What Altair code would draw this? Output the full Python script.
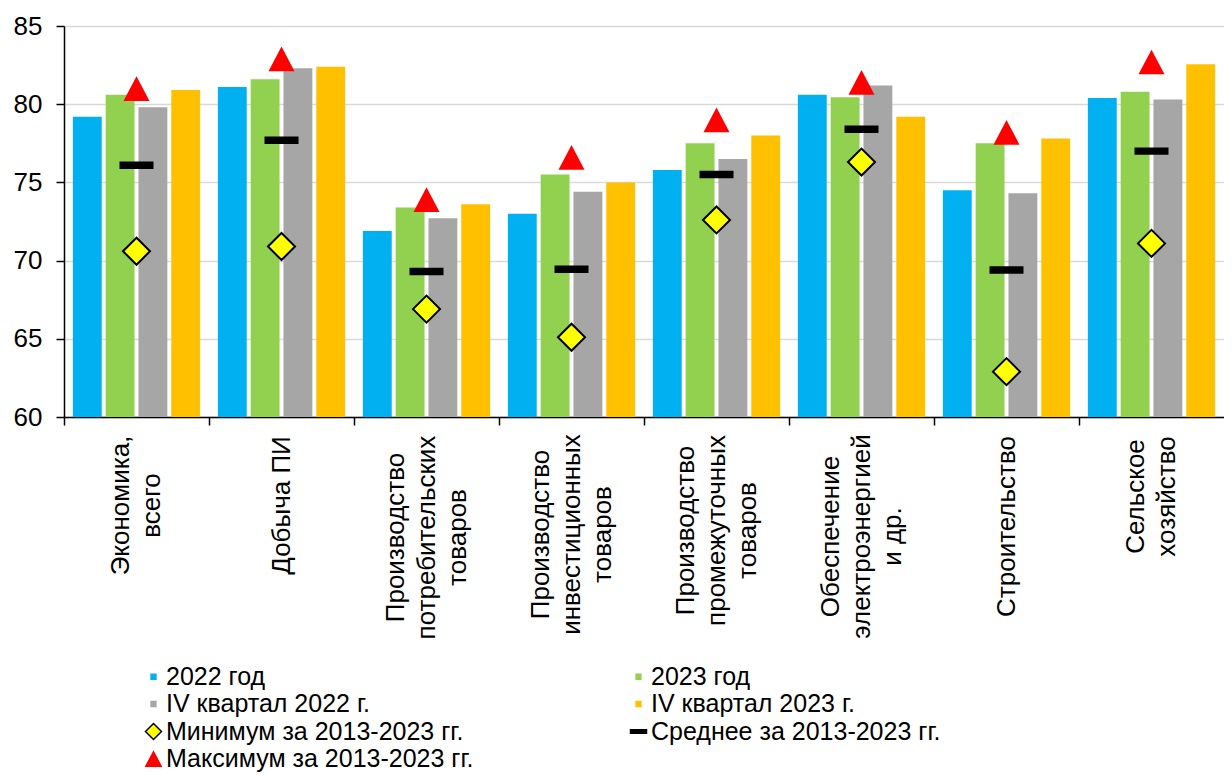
import json
import altair as alt
import pandas as pd

# ---------------- data ----------------
categories = [
    "Экономика,\nвсего",
    "Добыча ПИ",
    "Производство\nпотребительских\nтоваров",
    "Производство\nинвестиционных\nтоваров",
    "Производство\nпромежуточных\nтоваров",
    "Обеспечение\nэлектроэнергией\nи др.",
    "Строительство",
    "Сельское\nхозяйство",
]
bar_series = ["2022 год", "2023 год", "IV квартал 2022 г.", "IV квартал 2023 г."]
min_name = "Минимум за 2013-2023 гг."
mean_name = "Среднее за 2013-2023 гг."
max_name = "Максимум за 2013-2023 гг."

y2022 = [79.2, 81.1, 71.9, 73.0, 75.8, 80.6, 74.5, 80.4]
y2023 = [80.6, 81.6, 73.4, 75.5, 77.5, 80.45, 77.5, 80.8]
q4_2022 = [79.8, 82.3, 72.7, 74.4, 76.5, 81.2, 74.3, 80.3]
q4_2023 = [80.9, 82.4, 73.6, 75.0, 78.0, 79.2, 77.8, 82.55]
min_vals = [70.6, 70.9, 66.9, 65.1, 72.6, 76.3, 62.9, 71.1]
mean_vals = [76.1, 77.7, 69.3, 69.45, 75.5, 78.4, 69.4, 77.0]
max_vals = [81.0, 82.9, 73.9, 76.6, 79.0, 81.4, 78.2, 82.7]

y_ticks = [60, 65, 70, 75, 80, 85]

# ---------------- tables ----------------
bar_rows = []
for s, vals in zip(bar_series, [y2022, y2023, q4_2022, q4_2023]):
    for c, v in zip(categories, vals):
        bar_rows.append({"cat": c, "series": s, "value": v})
bars_df = pd.DataFrame(bar_rows)

min_df = pd.DataFrame({"cat": categories, "series": min_name, "value": min_vals})
mean_df = pd.DataFrame({"cat": categories, "series": mean_name, "value": mean_vals})
max_df = pd.DataFrame({"cat": categories, "series": max_name, "value": max_vals})

# ---------------- styles ----------------
FONT = "Liberation Sans"
domain_all = bar_series + [min_name, mean_name, max_name]
fill_range = ["#00B0F0", "#92D050", "#A6A6A6", "#FFC000", "#FFFF00", "#000000", "#FF0000"]
stroke_range = ["#00B0F0", "#92D050", "#A6A6A6", "#FFC000", "#000000", "#000000", "#FF0000"]
SQ = "M-0.3,-0.3H0.3V0.3H-0.3Z"
DASH = "M-1,-0.22H1V0.22H-1Z"
TRI = "M0,-0.9L0.95,0.9L-0.95,0.9Z"
shape_range = [SQ, SQ, SQ, SQ, "diamond", DASH, TRI]

leg = alt.Legend(title=None, orient="none", legendX=74, legendY=638, columns=2,
                 direction="horizontal")
color_scale = alt.Scale(domain=domain_all, range=fill_range)
shape_scale = alt.Scale(domain=domain_all, range=shape_range)
stroke_scale = alt.Scale(domain=domain_all, range=stroke_range)

LINE_H = 31


def per_label(values):
    """Build a per-label conditional axis value keyed on the category."""
    return {
        "condition": [
            {"test": "datum.value === " + json.dumps(c, ensure_ascii=False), "value": v}
            for c, v in zip(categories[:-1], values[:-1])
        ],
        "value": values[-1],
    }


# padding: centre of the label block sits half its longest line below the axis
pad_by_cat = [80, 80, 112, 109, 105, 111, 101, 71]
# offset: shift multi-line blocks so they are centred on their category
offset_by_cat = [-(c.count("\n")) * LINE_H / 2 for c in categories]

x_enc = alt.X(
    "cat:N",
    sort=categories,
    scale=alt.Scale(paddingInner=0, paddingOuter=0),
    axis=alt.Axis(
        title=None,
        labelAngle=270,
        labelAlign="center",
        labelBaseline="middle",
        labelExpr="split(datum.label, '\\n')",
        labelLineHeight=LINE_H,
        labelFontSize=26,
        labelLimit=400,
        labelPadding=per_label(pad_by_cat),
        labelOffset=per_label(offset_by_cat),
        bandPosition=0,
        tickSize=8,
        tickWidth=1.5,
        tickColor="black",
        domainColor="black",
        domainWidth=1.5,
        grid=False,
    ),
)
y_enc = alt.Y(
    "value:Q",
    scale=alt.Scale(domain=[60, 85], nice=False, zero=False),
    axis=alt.Axis(
        title=None,
        values=y_ticks,
        labelFontSize=26,
        labelPadding=14,
        tickSize=8,
        tickWidth=1.5,
        tickColor="black",
        domainColor="black",
        domainWidth=1.5,
        gridColor="#D9D9D9",
        gridWidth=1.5,
    ),
)

bars = alt.Chart(bars_df).mark_bar(clip=True).encode(
    x=x_enc,
    xOffset=alt.XOffset("series:N", sort=bar_series,
                        scale=alt.Scale(domain=bar_series, paddingInner=0.12, paddingOuter=0.27)),
    y=y_enc,
    color=alt.Color("series:N", scale=color_scale, legend=leg),
)

mins = alt.Chart(min_df).mark_point(filled=True, size=729, strokeWidth=2, opacity=1).encode(
    x=x_enc,
    y=y_enc,
    color=alt.Color("series:N", scale=color_scale, legend=leg),
    shape=alt.Shape("series:N", scale=shape_scale, legend=leg),
    stroke=alt.Stroke("series:N", scale=stroke_scale, legend=leg),
)

means = alt.Chart(mean_df).mark_point(filled=True, size=1156, opacity=1).encode(
    x=x_enc,
    y=y_enc,
    color=alt.Color("series:N", scale=color_scale, legend=leg),
    shape=alt.Shape("series:N", scale=shape_scale, legend=leg),
)

maxs = alt.Chart(max_df).mark_point(filled=True, size=750, opacity=1).encode(
    x=x_enc,
    y=y_enc,
    color=alt.Color("series:N", scale=color_scale, legend=leg),
    shape=alt.Shape("series:N", scale=shape_scale, legend=leg),
)

chart = (
    alt.layer(bars, means, mins, maxs)
    .properties(width=1160, height=391,
                padding={"left": 5, "top": 5, "right": 0, "bottom": 0})
    .configure(font=FONT)
    .configure_view(stroke=None)
    .configure_axis(labelFont=FONT, labelColor="black")
    .configure_legend(
        labelFont=FONT,
        labelFontSize=25,
        labelColor="black",
        labelLimit=400,
        labelOffset=0,
        symbolOffset=3,
        symbolSize=256,
        symbolStrokeWidth=1.5,
        symbolOpacity=1,
        columnPadding=149,
        rowPadding=1.5,
        padding=0,
    )
)

chart.save("out.html", embed_options={"renderer": "svg", "actions": False})
